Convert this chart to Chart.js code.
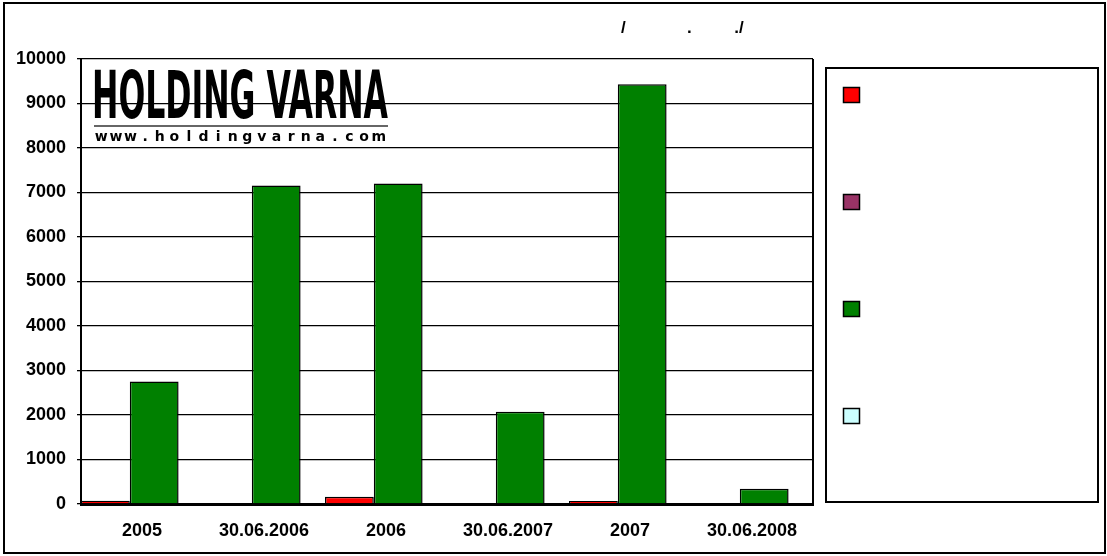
<!DOCTYPE html>
<html>
<head>
<meta charset="utf-8">
<script src="https://cdn.jsdelivr.net/npm/chart.js@4.4.1/dist/chart.umd.min.js"></script>
<style>
  html, body { margin: 0; padding: 0; background: #ffffff; }
  #wrap { width: 1107px; height: 556px; position: relative; }
</style>
</head>
<body>
<div id="wrap"><canvas id="c" width="1107" height="556"></canvas></div>
<script>
// ---- data ----
const categories = ['2005', '30.06.2006', '2006', '30.06.2007', '2007', '30.06.2008'];
const redValues    = [75, 0, 165, 0, 70, 0];
const purpleValues = [null, null, null, null, null, null];
const greenValues  = [2755, 7160, 7205, 2075, 9430, 340];
const cyanValues   = [null, null, null, null, null, null];
const yTicks = [0, 1000, 2000, 3000, 4000, 5000, 6000, 7000, 8000, 9000, 10000];
const titleText = '/             .         ./';
const logoTitle = 'HOLDING VARNA';
const logoUrl = 'www.holdingvarna.com';

const GROUP_OFFSET = 0.4; // group of bars starts at the category's left edge

function toPoints(values) {
  return values.map((v, i) => ({ x: i + GROUP_OFFSET, y: v }));
}

const FONT = "'Liberation Sans', Arial, sans-serif";

const framePlugin = {
  id: 'frame',
  afterDraw(chart) {
    const ctx = chart.ctx;
    const a = chart.chartArea;
    ctx.save();
    // outer frame
    ctx.strokeStyle = '#000';
    ctx.lineWidth = 2;
    ctx.strokeRect(4, 3, 1101, 550);
    // plot right border
    ctx.lineWidth = 2;
    ctx.beginPath();
    ctx.moveTo(a.right, a.top);
    ctx.lineTo(a.right, a.bottom);
    ctx.stroke();

    // title
    ctx.fillStyle = '#000';
    ctx.font = "bold 17px " + FONT;
    ctx.textBaseline = 'middle';
    ctx.textAlign = 'left';
    ctx.fillText(titleText, 621, 28);

    // legend box
    const lx = 826, ly = 68, lw = 272, lh = 434;
    ctx.lineWidth = 2;
    ctx.strokeStyle = '#000';
    ctx.strokeRect(lx, ly, lw, lh);
    const ds = chart.data.datasets;
    const rowGap = 107;
    ds.forEach((d, i) => {
      const y = 87 + i * rowGap;
      ctx.fillStyle = d.backgroundColor;
      ctx.fillRect(843, y, 17, 16);
      ctx.lineWidth = 1.5;
      ctx.strokeStyle = '#000';
      ctx.strokeRect(843.5, y + 0.5, 16, 15);
    });

    // logo
    ctx.fillStyle = '#000';
    ctx.textBaseline = 'alphabetic';
    ctx.font = "bold 66px 'Liberation Sans Narrow', 'DejaVu Sans Condensed', " + FONT;
    const w = ctx.measureText(logoTitle).width;
    const targetW = 296;
    ctx.save();
    ctx.translate(92, 118);
    ctx.scale(targetW / w, 1);
    ctx.fillText(logoTitle, 0, 0);
    ctx.restore();
    ctx.strokeStyle = '#333';
    ctx.lineWidth = 1.5;
    ctx.beginPath();
    ctx.moveTo(94, 126);
    ctx.lineTo(388, 126);
    ctx.stroke();
    ctx.font = "bold 14px 'DejaVu Sans', " + FONT;
    ctx.textAlign = 'center';
    const step = (386 - 94) / logoUrl.length;
    for (let i = 0; i < logoUrl.length; i++) {
      ctx.fillText(logoUrl[i], 94 + (i + 0.5) * step, 141);
    }
    ctx.restore();
  }
};

new Chart(document.getElementById('c'), {
  type: 'bar',
  data: {
    datasets: [
      { label: 'red', data: toPoints(redValues), backgroundColor: '#FF0000', borderColor: '#000', borderWidth: 1.5 },
      { label: 'purple', data: toPoints(purpleValues), backgroundColor: '#993366', borderColor: '#000', borderWidth: 1.5, grouped: false },
      { label: 'green', data: toPoints(greenValues), backgroundColor: '#008000', borderColor: '#000', borderWidth: 1.5 },
      { label: 'cyan', data: toPoints(cyanValues), backgroundColor: '#CCFFFF', borderColor: '#000', borderWidth: 1.5, grouped: false }
    ]
  },
  options: {
    responsive: false,
    animation: false,
    devicePixelRatio: 1,
    layout: { padding: { left: 0, right: 294, top: 59, bottom: 0 } },
    datasets: { bar: { categoryPercentage: 0.8, barPercentage: 1.0 } },
    plugins: {
      legend: { display: false },
      title: { display: false },
      tooltip: { enabled: false }
    },
    scales: {
      x: {
        type: 'linear',
        offset: false,
        min: 0,
        max: categories.length,
        grid: { display: false, drawTicks: false },
        border: { display: true, color: '#000', width: 3 },
        afterBuildTicks: (scale) => { scale.ticks = categories.map((c, i) => ({ value: i + 0.5 })); },
        afterFit: (scale) => { scale.height = 52; },
        ticks: {
          autoSkip: false,
          maxRotation: 0,
          padding: 16,
          color: '#000',
          font: { family: FONT, size: 18, weight: 'bold' },
          callback: (v) => categories[Math.floor(v)]
        }
      },
      y: {
        min: 0,
        max: 10000,
        afterBuildTicks: (scale) => { scale.ticks = yTicks.map(v => ({ value: v })); },
        afterFit: (scale) => { scale.width = 81; },
        grid: { color: '#000', lineWidth: 1.3, tickLength: 4, drawTicks: true },
        border: { display: true, color: '#000', width: 2 },
        ticks: {
          padding: 11,
          color: '#000',
          font: { family: FONT, size: 18, weight: 'bold' },
          callback: (v) => String(v)
        }
      }
    }
  },
  plugins: [framePlugin]
});
</script>
</body>
</html>
